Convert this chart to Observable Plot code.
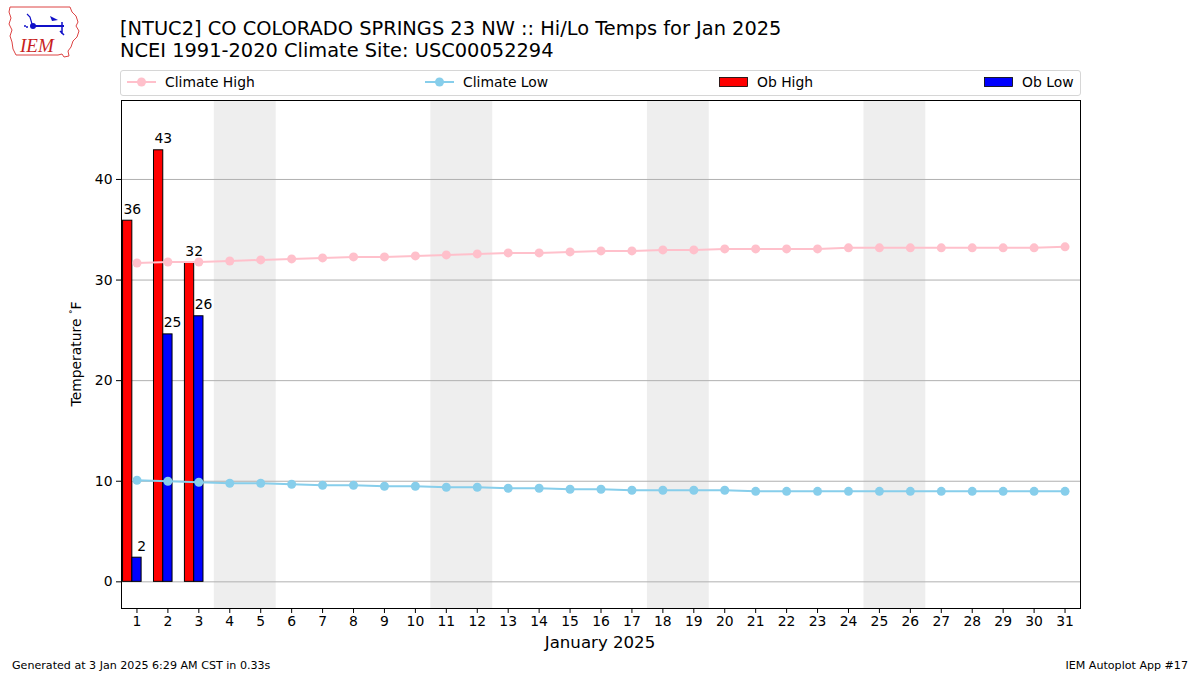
<!DOCTYPE html>
<html>
<head>
<meta charset="utf-8">
<script src="https://cdn.jsdelivr.net/npm/d3@7"></script>
<script src="https://cdn.jsdelivr.net/npm/@observablehq/plot@0.6"></script>
<style>
  html, body { margin:0; padding:0; background:#fff; }
  #wrap { position:relative; width:1200px; height:675px; overflow:hidden; font-family:"DejaVu Sans", sans-serif; color:#000; }
  #chart { position:absolute; left:0; top:0; }
  .abs { position:absolute; white-space:nowrap; }
  #title { left:120px; top:18px; font-size:19.4px; line-height:22px; }
  #ylab { left:76px; top:354px; font-size:13.9px; transform:translate(-50%,-50%) rotate(-90deg); }
  #xlab { left:600px; top:633px; font-size:16.6px; transform:translateX(-50%); }
  #foot1 { left:12px; top:659px; font-size:11.1px; }
  #foot2 { right:12px; top:659px; font-size:11.1px; }
  #legend { left:120px; top:70px; width:959px; height:24px; border:1px solid #d6d6d6; border-radius:3px; background:#fff; }
</style>
</head>
<body>
<div id="wrap">
  <div id="chart"></div>
  <svg class="abs" style="left:6px;top:4px" width="76" height="56" viewBox="0 0 76 56">
    <path d="M4,3 L64,3 L66,8 L70,12 L72,18 L70,22 L73,27 L71,33 L67,37 L65,43 L62,47 L63,52 L58,53 L56,50 L52,51 L40,51 L22,51 L10,51 L7,45 L6,38 L4,32 L6,26 L3,20 L5,14 L3,8 Z" fill="none" stroke="#d44" stroke-width="1"/>
    <text x="14" y="48" font-family="Liberation Serif, serif" font-style="italic" font-size="19" fill="#c81e1e">IEM</text>
    <line x1="26" y1="22" x2="58" y2="22" stroke="#1010c8" stroke-width="2"/>
    <circle cx="27" cy="22" r="3" fill="#1010c8"/>
    <path d="M21,10 L24,13 L26,20" stroke="#1010c8" stroke-width="1.2" fill="none"/>
    <path d="M44,12 L52,16 L46,17 Z" fill="#1010c8"/>
    <path d="M56,18 L56,30 M54,27 L58,31" stroke="#1010c8" stroke-width="1.5" fill="none"/>
    <circle cx="19" cy="22" r="1" fill="#1010c8"/><circle cx="21" cy="23" r="1" fill="#1010c8"/>
  </svg>
  <div id="title" class="abs">[NTUC2] CO COLORADO SPRINGS 23 NW :: Hi/Lo Temps for Jan 2025<br>NCEI 1991-2020 Climate Site: USC00052294</div>
  <div id="legend" class="abs"></div>
  <div id="ylab" class="abs">Temperature <span style="font-size:9px;vertical-align:5px">°</span>F</div>
  <div id="xlab" class="abs">January 2025</div>
  <div id="foot1" class="abs">Generated at 3 Jan 2025 6:29 AM CST in 0.33s</div>
  <div id="foot2" class="abs">IEM Autoplot App #17</div>
</div>
<script>
const days = d3.range(1, 32);
const climateHigh = [31.7,31.8,31.8,31.9,32.0,32.1,32.2,32.3,32.3,32.4,32.5,32.6,32.7,32.7,32.8,32.9,32.9,33.0,33.0,33.1,33.1,33.1,33.1,33.2,33.2,33.2,33.2,33.2,33.2,33.2,33.3];
const climateLow = [10.1,10.0,9.9,9.8,9.8,9.7,9.6,9.6,9.5,9.5,9.4,9.4,9.3,9.3,9.2,9.2,9.1,9.1,9.1,9.1,9.0,9.0,9.0,9.0,9.0,9.0,9.0,9.0,9.0,9.0,9.0];
const obDays = [1, 2, 3];
const obHigh = [35.9, 42.9, 31.7];
const obLow = [2.4, 24.6, 26.4];
const weekendStarts = [4, 11, 18, 25];
const yTicks = [0, 10, 20, 30, 40];

const clim = days.map((d, i) => ({day: d, hi: climateHigh[i], lo: climateLow[i]}));
const obs = obDays.map((d, i) => ({day: d, hi: obHigh[i], lo: obLow[i]}));

const chart = Plot.plot({
  width: 1200, height: 675,
  marginTop: 100, marginBottom: 67, marginLeft: 121, marginRight: 120,
  style: {fontFamily: "DejaVu Sans, sans-serif", fontSize: "13.9px", color: "#000", background: "transparent"},
  x: {type: "linear", domain: [0.5, 31.5]},
  y: {domain: [-2.65, 47.85]},
  marks: [
    Plot.rect(weekendStarts, {x1: d => d - 0.5, x2: d => d + 1.5, fill: "#eeeeee"}),
    Plot.ruleY(yTicks, {stroke: "#b0b0b0", strokeWidth: 1}),
    Plot.rect(obs, {x1: d => d.day - 0.45, x2: d => d.day - 0.15, y1: 0, y2: "hi", fill: "#ff0000", stroke: "#000", strokeWidth: 1}),
    Plot.rect(obs, {x1: d => d.day - 0.15, x2: d => d.day + 0.15, y1: 0, y2: "lo", fill: "#0000ff", stroke: "#000", strokeWidth: 1}),
    Plot.text(obs, {x: d => d.day - 0.15, y: "hi", text: d => String(Math.round(d.hi)), lineAnchor: "bottom", dy: -7, fill: "#000"}),
    Plot.text(obs, {x: d => d.day + 0.15, y: "lo", text: d => String(Math.round(d.lo)), lineAnchor: "bottom", dy: -7, fill: "#000"}),
    Plot.line(clim, {x: "day", y: "hi", stroke: "#ffc0cb", strokeWidth: 2}),
    Plot.dot(clim, {x: "day", y: "hi", r: 4.5, fill: "#ffc0cb"}),
    Plot.line(clim, {x: "day", y: "lo", stroke: "#87ceeb", strokeWidth: 2}),
    Plot.dot(clim, {x: "day", y: "lo", r: 4.5, fill: "#87ceeb"}),
    Plot.axisX({ticks: days, tickFormat: d => String(d), tickSize: 5, tickPadding: 3, label: null}),
    Plot.axisY({ticks: yTicks, tickFormat: d => String(d), tickSize: 5, tickPadding: 4, label: null}),
    Plot.frame({stroke: "#000", strokeWidth: 1})
  ]
});
document.getElementById("chart").appendChild(chart);

// legend
const legendItems = [
  {label: "Climate High", kind: "line", color: "#ffc0cb", x: 6},
  {label: "Climate Low", kind: "line", color: "#87ceeb", x: 304},
  {label: "Ob High", kind: "rect", color: "#ff0000", x: 598},
  {label: "Ob Low", kind: "rect", color: "#0000ff", x: 863}
];
const lg = d3.select("#legend").append("svg").attr("width", 959).attr("height", 24)
  .style("font-family", "DejaVu Sans, sans-serif").style("font-size", "13.9px");
legendItems.forEach(it => {
  const g = lg.append("g").attr("transform", `translate(${it.x},0)`);
  if (it.kind === "line") {
    g.append("line").attr("x1", 0).attr("x2", 29).attr("y1", 11).attr("y2", 11).attr("stroke", it.color).attr("stroke-width", 2);
    g.append("circle").attr("cx", 14.5).attr("cy", 11).attr("r", 4.5).attr("fill", it.color);
  } else {
    g.append("rect").attr("x", 0.5).attr("y", 6.5).attr("width", 28).attr("height", 9).attr("fill", it.color).attr("stroke", "#000").attr("stroke-width", 0.8);
  }
  g.append("text").attr("x", 38).attr("y", 16).text(it.label);
});
</script>
</body>
</html>
